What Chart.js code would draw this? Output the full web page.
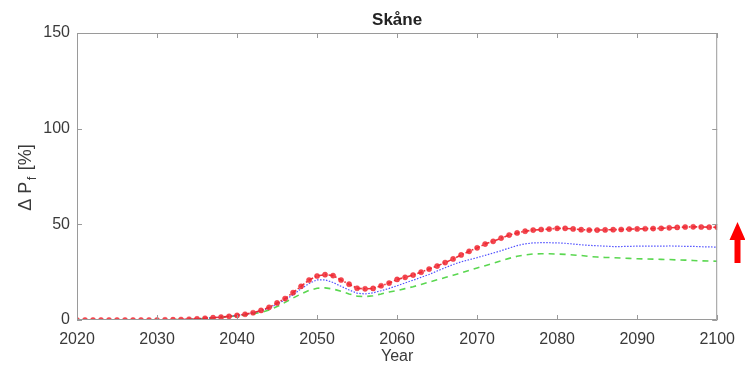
<!DOCTYPE html>
<html>
<head>
<meta charset="utf-8">
<script src="https://cdn.jsdelivr.net/npm/chart.js@4.4.0/dist/chart.umd.min.js"></script>
<style>
  html, body { margin: 0; padding: 0; background: #fff; }
  #wrap { width: 745px; height: 366px; }
</style>
</head>
<body>
<div id="wrap"><canvas id="pfChart" width="745" height="366"></canvas></div>
<script>
// yearly values, 2020..2100
const years = [];
for (let y = 2020; y <= 2100; y++) years.push(y);

const redSeries = [
  0, 0, 0, 0, 0, 0, 0, 0, 0, 0, 0,
  0.1, 0.15, 0.25, 0.4, 0.6, 0.9, 1.2, 1.5, 1.9, 2.4,
  3.0, 3.8, 5.0, 6.6, 8.9, 11.2, 14.3, 17.6, 20.9, 23.0,
  23.7, 23.2, 20.9, 18.7, 16.6, 16.3, 16.5, 17.9, 19.3, 21.2,
  22.3, 23.5, 25.0, 26.6, 28.2, 30.0, 31.9, 34.0, 35.9, 37.7,
  39.7, 41.1, 42.8, 44.4, 45.5, 46.4, 47.0, 47.3, 47.5, 47.9,
  47.9, 47.6, 47.2, 47.0, 47.0, 47.1, 47.2, 47.3, 47.5, 47.6,
  47.7, 47.8, 47.9, 48.2, 48.4, 48.6, 48.7, 48.6, 48.5, 48.5
];

const blueSeries = [
  0, 0, 0, 0, 0, 0, 0, 0, 0, 0, 0,
  0.1, 0.15, 0.25, 0.4, 0.6, 0.9, 1.2, 1.5, 1.9, 2.4,
  3.0, 3.7, 4.8, 6.2, 8.3, 10.5, 13.2, 16.3, 19.1, 21.0,
  21.0, 19.6, 17.6, 15.7, 14.0, 13.6, 14.2, 15.3, 16.5, 17.9,
  19.4, 20.8, 22.3, 23.8, 25.6, 27.3, 29.0, 30.4, 31.5, 32.6,
  33.8, 35.0, 36.2, 37.6, 38.9, 39.8, 40.3, 40.4, 40.4, 40.3,
  40.1, 39.7, 39.3, 39.0, 38.8, 38.6, 38.4, 38.4, 38.5, 38.6,
  38.6, 38.6, 38.6, 38.7, 38.6, 38.5, 38.5, 38.3, 38.2, 38.1
];

const greenSeries = [
  0, 0, 0, 0, 0, 0, 0, 0, 0, 0, 0,
  0.1, 0.15, 0.25, 0.4, 0.6, 0.85, 1.1, 1.4, 1.8, 2.2,
  2.6, 3.2, 4.0, 5.2, 7.0, 9.2, 11.5, 13.6, 15.5, 16.6,
  16.8, 16.2, 15.0, 13.6, 12.5, 12.2, 12.7, 13.6, 14.6, 15.4,
  16.4, 17.4, 18.6, 19.8, 21.0, 22.2, 23.4, 24.6, 25.9, 27.2,
  28.4, 29.6, 30.9, 32.2, 33.3, 34.0, 34.5, 34.6, 34.6, 34.5,
  34.3, 34.0, 33.7, 33.2, 32.9, 32.7, 32.6, 32.4, 32.2, 32.0,
  31.9, 31.8, 31.7, 31.6, 31.4, 31.3, 31.1, 30.9, 30.8, 30.7
];

const xTicks = [2020, 2030, 2040, 2050, 2060, 2070, 2080, 2090, 2100];
const yTicks = [0, 50, 100, 150];
const titleText = 'Skåne';
const xLabel = 'Year';

const FONT = '"Liberation Sans", Arial, Helvetica, sans-serif';
const AXIS_GRAY = '#9a9a9a';
const TEXT_GRAY = '#3a3a3a';

function pts(vals) {
  return vals.map((v, i) => ({ x: years[i], y: v }));
}

// box, inward ticks, title, axis labels and the arrow on the right
const decorPlugin = {
  id: 'decor',
  afterDraw(chart) {
    const ctx = chart.ctx;
    const a = chart.chartArea;
    const xs = chart.scales.x, ys = chart.scales.y;
    ctx.save();
    ctx.strokeStyle = AXIS_GRAY;
    ctx.lineWidth = 1;
    ctx.beginPath();
    ctx.rect(a.left + 0.5, a.top + 0.5, a.right - a.left - 1, a.bottom - a.top - 1);
    ctx.stroke();

    const tl = 5;
    ctx.beginPath();
    xTicks.forEach(t => {
      const px = Math.round(xs.getPixelForValue(t)) + 0.5;
      ctx.moveTo(px, a.bottom); ctx.lineTo(px, a.bottom - tl);
      ctx.moveTo(px, a.top); ctx.lineTo(px, a.top + tl);
    });
    yTicks.forEach(t => {
      const py = Math.round(ys.getPixelForValue(t)) + 0.5;
      ctx.moveTo(a.left, py); ctx.lineTo(a.left + tl, py);
      ctx.moveTo(a.right, py); ctx.lineTo(a.right - tl, py);
    });
    ctx.stroke();

    // title
    ctx.fillStyle = '#222';
    ctx.font = 'bold 17px ' + FONT;
    ctx.textAlign = 'center';
    ctx.textBaseline = 'middle';
    ctx.fillText(titleText, (a.left + a.right) / 2, 20);

    // x label
    ctx.fillStyle = TEXT_GRAY;
    ctx.font = '16px ' + FONT;
    ctx.fillText(xLabel, (a.left + a.right) / 2, 357);

    // y label: "Δ P" with subscript f, then "[%]"
    ctx.translate(31, 177.5);
    ctx.rotate(-Math.PI / 2);
    ctx.textBaseline = 'alphabetic';
    ctx.textAlign = 'left';
    const big = '18px ' + FONT, small = '13px ' + FONT;
    ctx.font = big;
    const p1 = 'Δ P';
    const p2 = ' [%]';
    const w1 = ctx.measureText(p1).width;
    const w3 = ctx.measureText(p2).width;
    ctx.font = small;
    const w2 = ctx.measureText('f').width + 3;
    let x0 = -(w1 + w2 + w3) / 2;
    ctx.font = big;
    ctx.fillText(p1, x0, 0);
    ctx.font = small;
    ctx.fillText('f', x0 + w1 + 1.5, 5);
    ctx.font = big;
    ctx.fillText(p2, x0 + w1 + w2, 0);
    ctx.setTransform(1, 0, 0, 1, 0, 0);

    // red arrow pointing up, right of the plot
    ctx.fillStyle = '#ff0000';
    ctx.beginPath();
    ctx.moveTo(737.5, 222);
    ctx.lineTo(745.5, 240);
    ctx.lineTo(740.5, 240);
    ctx.lineTo(740.5, 263);
    ctx.lineTo(734.5, 263);
    ctx.lineTo(734.5, 240);
    ctx.lineTo(729.5, 240);
    ctx.closePath();
    ctx.fill();
    ctx.restore();
  }
};

new Chart(document.getElementById('pfChart').getContext('2d'), {
  type: 'line',
  data: {
    datasets: [
      {
        label: 'low',
        data: pts(greenSeries),
        borderColor: 'rgb(90,215,80)',
        borderWidth: 1.6,
        borderDash: [6, 5],
        pointRadius: 0,
        tension: 0,
        order: 3
      },
      {
        label: 'mid',
        data: pts(blueSeries),
        borderColor: 'rgb(80,80,255)',
        borderWidth: 1.2,
        borderDash: [1.5, 1.5],
        pointRadius: 0,
        tension: 0,
        order: 2
      },
      {
        label: 'high',
        data: pts(redSeries),
        borderColor: 'rgba(235,30,40,0.9)',
        borderWidth: 1.6,
        borderDash: [5, 2, 1.5, 2],
        pointRadius: 2.6,
        pointBackgroundColor: 'rgba(240,40,50,0.85)',
        pointBorderColor: 'rgba(240,40,50,0.85)',
        pointBorderWidth: 0.5,
        tension: 0,
        order: 1
      }
    ]
  },
  options: {
    responsive: false,
    animation: false,
    layout: { padding: { left: 0, right: 25, top: 33, bottom: 0 } },
    plugins: {
      legend: { display: false },
      title: { display: false },
      tooltip: { enabled: false }
    },
    scales: {
      x: {
        type: 'linear',
        min: 2020,
        max: 2100,
        afterFit: s => { s.height = 46; },
        afterBuildTicks: s => { s.ticks = xTicks.map(v => ({ value: v })); },
        grid: { display: false, drawTicks: false },
        border: { display: false },
        ticks: {
          padding: 10,
          color: TEXT_GRAY,
          font: { family: FONT, size: 16 },
          maxRotation: 0,
          callback: v => String(v)
        }
      },
      y: {
        min: 0,
        max: 150,
        afterFit: s => { s.width = 77; },
        afterBuildTicks: s => { s.ticks = yTicks.map(v => ({ value: v })); },
        grid: { display: false, drawTicks: false },
        border: { display: false },
        ticks: {
          padding: 7,
          color: TEXT_GRAY,
          font: { family: FONT, size: 16 },
          callback: v => String(v)
        }
      }
    }
  },
  plugins: [decorPlugin]
});
</script>
</body>
</html>
